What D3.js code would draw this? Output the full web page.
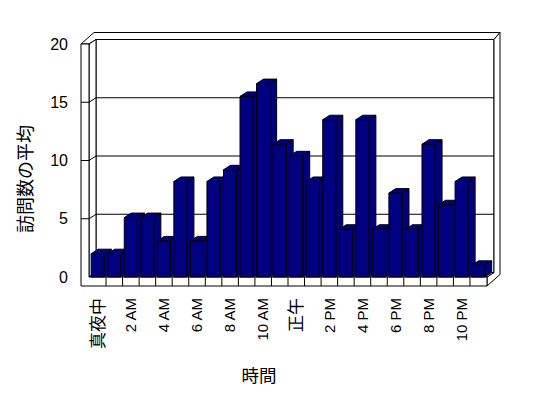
<!DOCTYPE html>
<html>
<head>
<meta charset="utf-8">
<script src="https://cdn.jsdelivr.net/npm/d3@7"></script>
<style>
body { margin: 0; background: #fff; }
text { font-family: "Liberation Sans", "Noto Sans CJK JP", sans-serif; fill: #000; }
</style>
</head>
<body>
<script>
(function(){

//chart data
var hours = ["0", "1", "2", "3", "4", "5", "6", "7", "8", "9", "10", "11",
             "12", "13", "14", "15", "16", "17", "18", "19", "20", "21", "22", "23"];

var visits = [2.0, 2.0, 5.1, 5.1, 3.1, 8.2, 3.1, 8.2, 9.2, 15.5, 16.6, 11.4,
              10.4, 8.2, 13.5, 4.1, 13.5, 4.1, 7.2, 4.1, 11.4, 6.2, 8.2, 1.0];

var hourLabels = ["真夜中", "", "2 AM", "", "4 AM", "", "6 AM", "", "8 AM", "", "10 AM", "",
                  "正午", "", "2 PM", "", "4 PM", "", "6 PM", "", "8 PM", "", "10 PM", ""];

var yTicks = [0, 5, 10, 15, 20];

var yTitle = "訪問数の平均",
    xTitle = "時間";

//frame dimensions
var width = 548,
    height = 398,
    wallOuter = 81,     //left edge of the side wall
    wallInner = 89,     //inner edge of the side wall
    floorRight = 487,   //right end of the floor front
    floorH = 9,         //floor slab thickness
    dep = {x: 7, y: -4.5},    //depth of floor / bars
    thick = {x: 6, y: -7};    //thickness of the back wall

var barFill = "#000080";

var svg = d3.select("body")
    .append("svg")
    .attr("width", width)
    .attr("height", height);

//scales
var yScale = d3.scaleLinear()
    .domain([0, 20])
    .range([277, 44]);

var xScale = d3.scaleBand()
    .domain(hours)
    .range([89.5, 486.5]);

var y0 = yScale(0),
    yTop = yScale(20),
    bw = xScale.bandwidth();

function pts(arr){
    return arr.map(function(p){ return p[0] + "," + p[1]; }).join(" ");
};

var frame = svg.append("g")
    .attr("fill", "#fff")
    .attr("stroke", "#000")
    .attr("stroke-width", 1);

//back wall face
var bwL = wallInner + dep.x,
    bwR = floorRight + dep.x;
frame.append("rect")
    .attr("x", bwL)
    .attr("y", yTop + dep.y)
    .attr("width", bwR - bwL)
    .attr("height", y0 - yTop);

//gridlines on the back wall
frame.selectAll(".grid")
    .data(yTicks.filter(function(d){ return d > 0 && d < 20; }))
    .enter()
    .append("line")
    .attr("class", "grid")
    .attr("x1", bwL)
    .attr("x2", bwR)
    .attr("y1", function(d){ return yScale(d) + dep.y; })
    .attr("y2", function(d){ return yScale(d) + dep.y; });

//top of side wall + back wall
frame.append("polygon")
    .attr("points", pts([
        [wallOuter, yTop], [wallInner, yTop],
        [bwL, yTop + dep.y], [bwR, yTop + dep.y],
        [bwR + thick.x, yTop + dep.y + thick.y],
        [wallOuter + dep.x + thick.x, yTop + dep.y + thick.y]
    ]));

//right end of back wall and floor
frame.append("polygon")
    .attr("points", pts([
        [bwR, yTop + dep.y],
        [bwR + thick.x, yTop + dep.y + thick.y],
        [bwR + thick.x, y0 + floorH + dep.y + thick.y],
        [floorRight, y0 + floorH],
        [floorRight, y0],
        [bwR, y0 + dep.y]
    ]));

//inner face of side wall
frame.append("polygon")
    .attr("points", pts([
        [wallInner, yTop], [bwL, yTop + dep.y],
        [bwL, y0 + dep.y], [wallInner, y0]
    ]));

//floor top
frame.append("polygon")
    .attr("points", pts([
        [wallInner, y0], [floorRight, y0],
        [bwR, y0 + dep.y], [bwL, y0 + dep.y]
    ]));

//front of side wall and floor
frame.append("polygon")
    .attr("points", pts([
        [wallOuter, yTop], [wallInner, yTop], [wallInner, y0],
        [floorRight, y0], [floorRight, y0 + floorH], [wallOuter, y0 + floorH]
    ]));

//ticks across the side wall
frame.selectAll(".wallTick")
    .data(yTicks.filter(function(d){ return d > 0 && d < 20; }))
    .enter()
    .append("polyline")
    .attr("class", "wallTick")
    .attr("fill", "none")
    .attr("points", function(d){
        return pts([[wallOuter, yScale(d)], [wallInner, yScale(d)], [bwL, yScale(d) + dep.y]]);
    });

//category ticks on the floor front
frame.selectAll(".floorTick")
    .data(hours.slice(1))
    .enter()
    .append("line")
    .attr("class", "floorTick")
    .attr("x1", function(d){ return xScale(d); })
    .attr("x2", function(d){ return xScale(d); })
    .attr("y1", y0)
    .attr("y2", y0 + floorH);

//3d bars, drawn left to right
var bars = svg.selectAll(".bar")
    .data(hours)
    .enter()
    .append("g")
    .attr("class", "bar")
    .attr("fill", barFill)
    .attr("stroke", "#000")
    .attr("stroke-width", 1)
    .attr("stroke-linejoin", "round");

bars.each(function(d, i){
    var g = d3.select(this),
        x0 = xScale(d) + bw * 0.1,
        w = bw * 0.79,
        yt = yScale(visits[i]);

    g.append("polygon")
        .attr("points", pts([
            [x0 + w, yt], [x0 + w + dep.x, yt + dep.y],
            [x0 + w + dep.x, y0 + dep.y], [x0 + w, y0]
        ]));
    g.append("polygon")
        .attr("points", pts([
            [x0, yt], [x0 + w, yt],
            [x0 + w + dep.x, yt + dep.y], [x0 + dep.x, yt + dep.y]
        ]));
    g.append("rect")
        .attr("x", x0)
        .attr("y", yt)
        .attr("width", w)
        .attr("height", y0 - yt);
});

//y tick labels
svg.selectAll(".yLabel")
    .data(yTicks)
    .enter()
    .append("text")
    .attr("class", "yLabel")
    .attr("x", 68)
    .attr("y", function(d){ return yScale(d); })
    .attr("dy", "0.35em")
    .attr("text-anchor", "end")
    .style("font-size", "16px")
    .text(function(d){ return d; });

//x tick labels, rotated
svg.selectAll(".xLabel")
    .data(hours.filter(function(d, i){ return hourLabels[i] != ""; }))
    .enter()
    .append("text")
    .attr("class", "xLabel")
    .attr("transform", function(d){
        return "translate(" + (xScale(d) + bw / 2) + ",298) rotate(-90)";
    })
    .attr("dy", "0.35em")
    .attr("text-anchor", "end")
    .style("font-size", function(d){
        return /[^\x00-\x7F]/.test(hourLabels[hours.indexOf(d)]) ? "17px" : "15px";
    })
    .text(function(d){ return hourLabels[hours.indexOf(d)]; });

//axis titles
svg.append("text")
    .attr("transform", "translate(26,179) rotate(-90)")
    .attr("dy", "0.35em")
    .attr("text-anchor", "middle")
    .style("font-size", "18px")
    .text(yTitle);

svg.append("text")
    .attr("x", 259)
    .attr("y", 382)
    .attr("text-anchor", "middle")
    .style("font-size", "17.5px")
    .text(xTitle);

})();
</script>
</body>
</html>
